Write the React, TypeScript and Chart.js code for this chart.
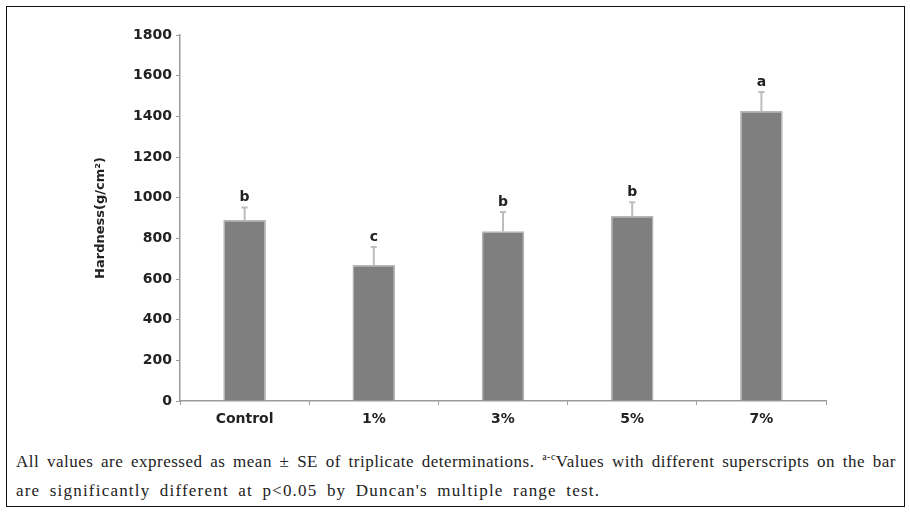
import React, { useEffect, useRef } from "react";
import { Chart, registerables } from "chart.js";

Chart.register(...registerables);

const categories = ["Control", "1%", "3%", "5%", "7%"];
const hardness = [890, 669, 835, 910, 1426];
const errorSE = [62, 88, 95, 68, 94];
const letters = ["b", "c", "b", "b", "a"];
const yTicks = [0, 200, 400, 600, 800, 1000, 1200, 1400, 1600, 1800];
const yTitle = "Hardness(g/cm\u00B2)";

const errorBarPlugin = {
  id: "errorBars",
  afterDatasetsDraw(chart: any) {
    const ctx = chart.ctx;
    const meta = chart.getDatasetMeta(0);
    const y = chart.scales.y;
    ctx.save();
    meta.data.forEach((bar: any, i: number) => {
      const top = y.getPixelForValue(hardness[i] + errorSE[i]);
      const base = y.getPixelForValue(hardness[i]);
      ctx.strokeStyle = "#bdbdbd";
      ctx.lineWidth = 2;
      ctx.beginPath();
      ctx.moveTo(bar.x, base);
      ctx.lineTo(bar.x, top);
      ctx.moveTo(bar.x - 3, top);
      ctx.lineTo(bar.x + 3, top);
      ctx.stroke();
      ctx.fillStyle = "#222";
      ctx.font = "bold 14px 'DejaVu Sans'";
      ctx.textAlign = "center";
      ctx.textBaseline = "bottom";
      ctx.fillText(letters[i], bar.x, top - 3);
    });
    ctx.restore();
  },
};

const titlePlugin = {
  id: "yTitle",
  afterDraw(chart: any) {
    const ctx = chart.ctx;
    const area = chart.chartArea;
    ctx.save();
    ctx.translate(101, (area.top + area.bottom) / 2);
    ctx.rotate(-Math.PI / 2);
    ctx.fillStyle = "#222";
    ctx.font = "bold 13px 'DejaVu Sans'";
    ctx.textAlign = "center";
    ctx.textBaseline = "middle";
    ctx.fillText(yTitle, 0, 0);
    ctx.restore();
  },
};

export default function App() {
  const ref = useRef<HTMLCanvasElement>(null);
  useEffect(() => {
    if (!ref.current) return;
    const chart = new Chart(ref.current, {
      type: "bar",
      data: {
        labels: categories,
        datasets: [
          {
            data: hardness,
            backgroundColor: "#7f7f7f",
            borderColor: "#b5b5b5",
            borderWidth: 1.5,
            barPercentage: 0.66,
            categoryPercentage: 0.5,
          },
        ],
      },
      options: {
        animation: false,
        responsive: false,
        devicePixelRatio: 1,
        layout: { padding: { left: 0, top: 35, right: 84, bottom: 0 } },
        plugins: { legend: { display: false }, tooltip: { enabled: false } },
        scales: {
          x: {
            offset: true,
            grid: {
              offset: true,
              drawOnChartArea: false,
              drawTicks: true,
              tickLength: 4,
              color: "#9a9a9a",
            },
            border: { color: "#9a9a9a", width: 1.5 },
            ticks: {
              color: "#222",
              font: { family: "'DejaVu Sans'", size: 14, weight: "bold" },
              padding: 6,
            },
            afterFit(scale: any) {
              scale.height = 39;
            },
          },
          y: {
            min: 0,
            max: 1800,
            afterBuildTicks(scale: any) {
              scale.ticks = yTicks.map((v) => ({ value: v }));
            },
            grid: {
              drawOnChartArea: false,
              drawTicks: true,
              tickLength: 4,
              color: "#9a9a9a",
            },
            border: { color: "#9a9a9a", width: 1.5 },
            ticks: {
              color: "#222",
              font: { family: "'DejaVu Sans'", size: 14, weight: "bold" },
              padding: 4,
              callback: (v: any) => String(v),
            },
            afterFit(scale: any) {
              scale.width = 180;
            },
          },
        },
      },
      plugins: [errorBarPlugin, titlePlugin],
    });
    return () => chart.destroy();
  }, []);

  const lineStyle: React.CSSProperties = {
    position: "absolute",
    left: 16,
    width: 880,
    fontFamily: "'Liberation Serif', serif",
    fontSize: 17,
    color: "#222",
    whiteSpace: "nowrap",
  };

  return (
    <div
      style={{
        position: "fixed",
        left: 0,
        top: 0,
        width: 910,
        height: 512,
        background: "#fff",
        overflow: "hidden",
      }}
    >
      <div
        style={{
          position: "absolute",
          left: 6,
          top: 6,
          width: 897,
          height: 499,
          border: "1.5px solid #111",
        }}
      />
      <canvas
        ref={ref}
        width={910}
        height={440}
        style={{ position: "absolute", left: 0, top: 0, width: 910, height: 440 }}
      />
      <div
        style={{
          ...lineStyle,
          top: 451,
          whiteSpace: "normal",
          textAlign: "justify",
          textAlignLast: "justify",
          letterSpacing: 0.5,
        }}
      >
        All values are expressed as mean ± SE of triplicate determinations.{" "}
        <sup style={{ fontSize: 10 }}>a-c</sup>Values with different superscripts on the bar
      </div>
      <div style={{ ...lineStyle, top: 481, letterSpacing: 1.2, wordSpacing: 4 }}>
        are significantly different at p&lt;0.05 by Duncan's multiple range test.
      </div>
    </div>
  );
}
